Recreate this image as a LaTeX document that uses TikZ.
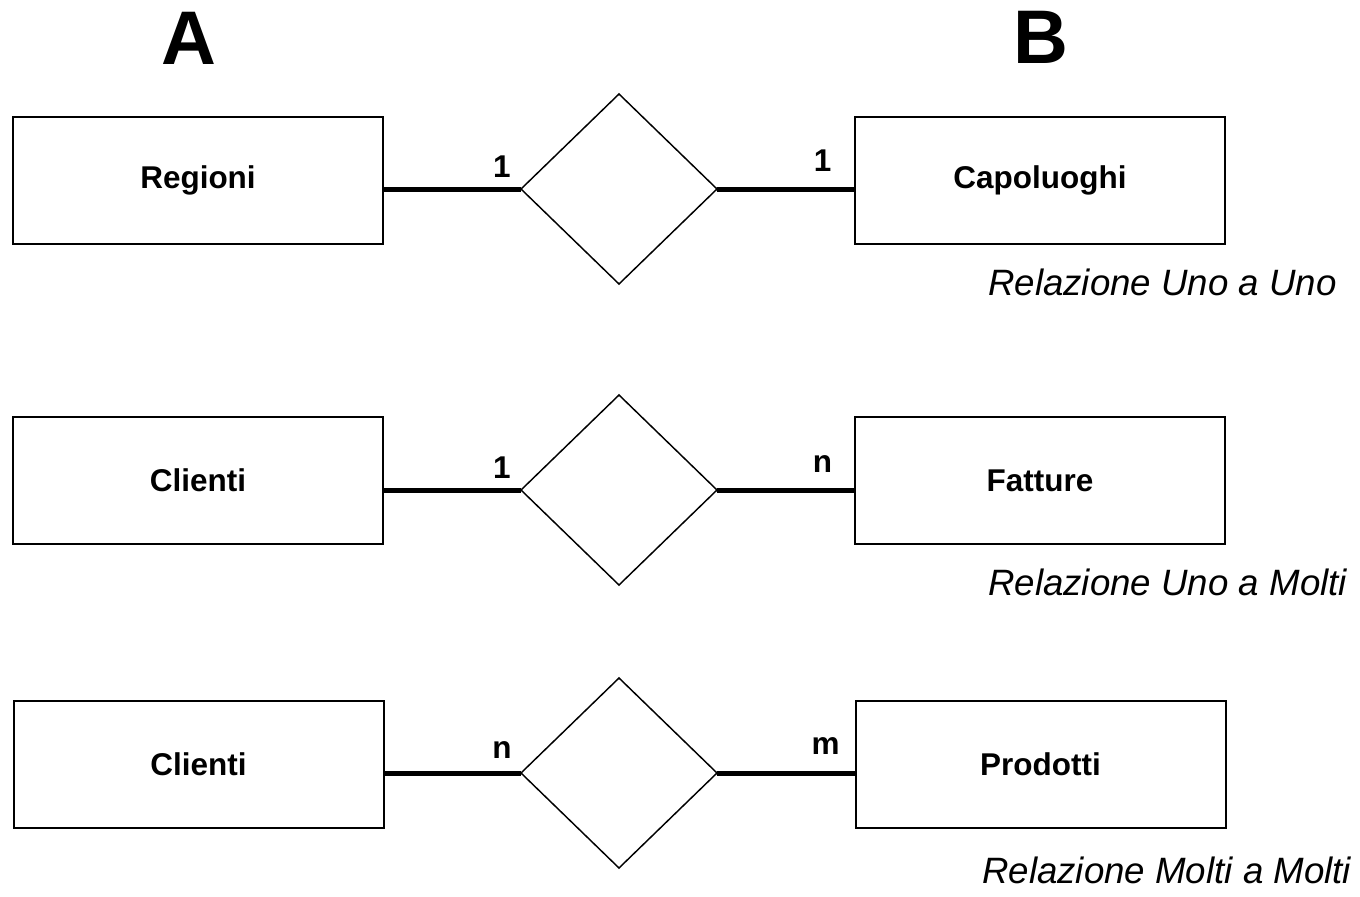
\documentclass[tikz,border=0pt]{standalone}
\usepackage{fontspec}
\setmainfont{Liberation Sans}
\usetikzlibrary{shapes.geometric}

\tikzset{
    entita/.style={draw=black, line width=1.5pt, minimum width=277.5pt, minimum height=95.25pt, inner sep=0pt, font=\bfseries\fontsize{23.6}{28}\selectfont},
    relazione/.style={draw=black, diamond, line width=1.1pt, minimum width=147pt, minimum height=142.5pt, inner sep=0pt, outer sep=0pt},
    legame/.style={line width=3.75pt},
    card/.style={font=\bfseries\fontsize{23.6}{28}\selectfont, inner sep=0pt},
    didascalia/.style={font=\itshape\fontsize{27.5}{32}\selectfont, anchor=base west, inner sep=0pt},
    lato/.style={font=\bfseries\fontsize{57}{64}\selectfont, inner sep=0pt}
}

\begin{document}
\begin{tikzpicture}[x=0.75pt, y=-0.75pt]
    \useasboundingbox (0,0) rectangle (1360,896);

    \node[lato] (latoA) at (189,38) {A};
    \node[lato] (latoB) at (1041,37) {B};

    % uno a uno
    \node[entita] (regioni) at (198,180.5) {Regioni};
    \node[entita] (capoluoghi) at (1040,180.5) {Capoluoghi};
    \node[relazione] (rel1) at (619,189) {};
    \draw[legame] (regioni.east |- rel1.west) -- node[card, pos=0.86, above=7pt] (c1a) {1} (rel1.west);
    \draw[legame] (rel1.east) -- node[card, pos=0.77, above=11pt] (c1b) {1} (capoluoghi.west |- rel1.east);
    \node[didascalia] (dida1) at (988,295) {Relazione Uno a Uno};

    % uno a molti
    \node[entita] (clienti1) at (198,480.5) {Clienti};
    \node[entita] (fatture) at (1040,480.5) {Fatture};
    \node[relazione] (rel2) at (619,490) {};
    \draw[legame] (clienti1.east |- rel2.west) -- node[card, pos=0.86, above=7pt] (c2a) {1} (rel2.west);
    \draw[legame] (rel2.east) -- node[card, pos=0.77, above=11pt] (c2b) {n} (fatture.west |- rel2.east);
    \node[didascalia] (dida2) at (988,595) {Relazione Uno a Molti};

    % molti a molti
    \node[entita] (clienti2) at (198.5,764) {Clienti};
    \node[entita] (prodotti) at (1040.5,764) {Prodotti};
    \node[relazione] (rel3) at (619,773) {};
    \draw[legame] (clienti2.east |- rel3.west) -- node[card, pos=0.86, above=9pt] (c3a) {n} (rel3.west);
    \draw[legame] (rel3.east) -- node[card, pos=0.79, above=12pt] (c3b) {m} (prodotti.west |- rel3.east);
    \node[didascalia] (dida3) at (982,883) {Relazione Molti a Molti};
\end{tikzpicture}
\end{document}
